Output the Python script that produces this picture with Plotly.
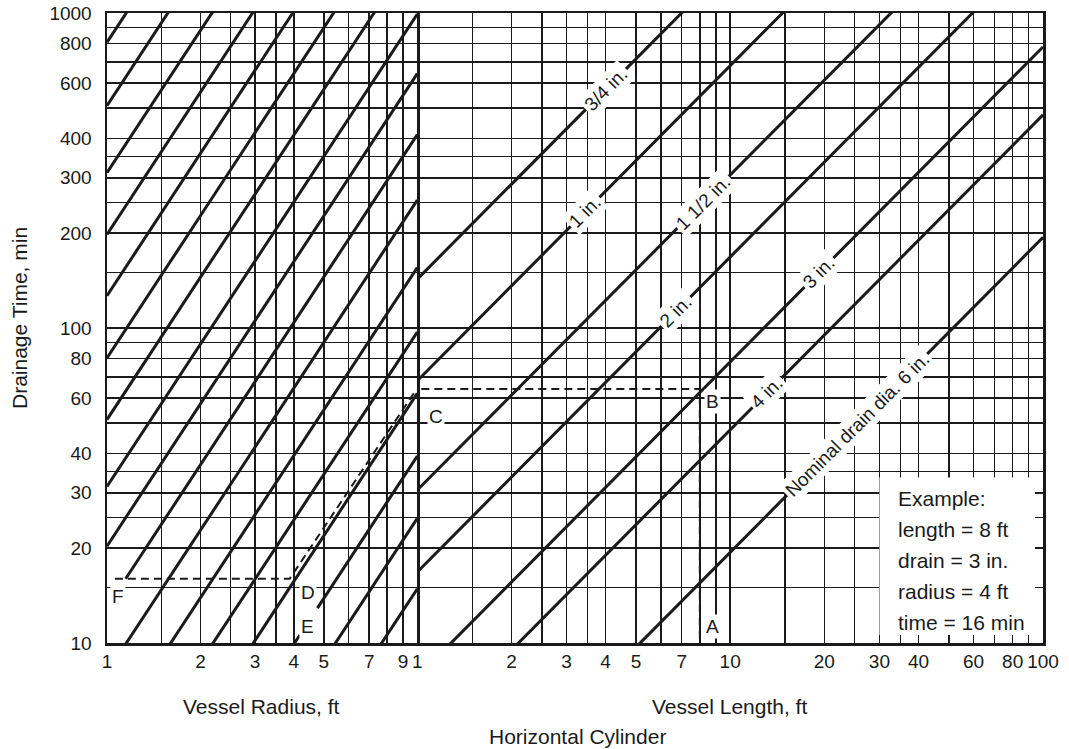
import math
import plotly.graph_objects as go

# ---------------- data ----------------
radius_grid = [1, 1.5, 2, 2.5, 3, 3.5, 4, 5, 6, 7, 8, 9, 10]
radius_tick_labels = [1, 2, 3, 4, 5, 7, 9]
length_grid = [1, 1.5, 2, 2.5, 3, 3.5, 4, 5, 6, 7, 8, 9, 10,
               15, 20, 25, 30, 35, 40, 50, 60, 70, 80, 90, 100]
length_tick_labels = [1, 2, 3, 4, 5, 7, 10, 20, 30, 40, 60, 80, 100]
time_grid = [10, 15, 20, 25, 30, 35, 40, 50, 60, 70, 80, 90, 100,
             150, 200, 250, 300, 350, 400, 500, 600, 700, 800, 900, 1000]
time_tick_labels = [10, 20, 30, 40, 60, 80, 100, 200, 300, 400, 600, 800, 1000]

# left panel guide lines: drainage time (min) at radius = 1 ft, slope 1.5 on log-log
guide_t_at_1ft = [807, 508, 311, 198, 126.6, 80.3, 51.2, 31.4, 20.3, 13,
                  8.06, 4.92, 3.07, 1.96, 1.24, 0.786, 0.47]
guide_exponent = 1.5
guide_start_time = {13: 16}             # line cut at the F reading
guide_gap_time = {1.24: (10.6, 12.9)}   # line broken for the D / E letters

# right panel drain lines: drainage time (min) at length = 1 ft, slope 1
drain_names = ["3/4 in.", "1 in.", "1 1/2 in.", "2 in.", "3 in.", "4 in.",
               "Nominal drain dia. 6 in."]
drain_t_at_1ft = [143, 68, 30.6, 16.8, 7.8, 4.75, 1.94]
drain_label_at_length = [4.0, 3.44, 8.2, 6.7, 19.2, 13.1, 25.5]

# worked example path
example_radius = [1.06, 3.88, 9.95]
example_radius_time = [16, 16, 64]
example_length = [1.03, 8, 8]
example_length_time = [64, 64, 10]
point_letters = ["A", "B", "C", "D", "E", "F"]
point_axis = ["r", "r", "r", "l", "l", "l"]
point_x = [8.8, 8.8, 1.147, 4.44, 4.44, 1.083]
point_t = [11.3, 58.4, 52.3, 14.5, 11.3, 14.0]

example_lines = ["Example:", "length = 8 ft", "drain = 3 in.", "radius = 4 ft", "time = 16 min"]
example_box_length = [30, 100]
example_box_time = [10, 33.5]

# ---------------- figure ----------------
FONT = "Liberation Sans, Arial, Helvetica, sans-serif"
INK = "#1a1a1a"
W, H = 1069, 749
ML, MR, MT, MB = 107, 26, 13, 106
PW, PH = W - ML - MR, H - MT - MB
split = (417.3 - ML) / PW

fig = go.Figure()

# white example box (covers the grid, under the axis tick stubs)
bx, by = example_box_length, example_box_time
fig.add_trace(go.Scatter(x=[bx[0], bx[1], bx[1], bx[0], bx[0]],
                         y=[by[0], by[0], by[1], by[1], by[0]],
                         xaxis="x2", yaxis="y2", mode="lines", fill="toself",
                         fillcolor="white", line=dict(width=0, color="white"),
                         hoverinfo="skip", showlegend=False))

# left panel guide lines
for c in guide_t_at_1ft:
    def r_of(t):
        return (t / c) ** (1.0 / guide_exponent)
    r0 = 1.0
    if c in guide_start_time:
        r0 = r_of(guide_start_time[c])
    if c in guide_gap_time:
        g0, g1 = guide_gap_time[c]
        xs = [r_of(10), r_of(g0), None, r_of(g1), 10]
    else:
        xs = [r0, 10]
    ys = [None if x is None else c * x ** guide_exponent for x in xs]
    fig.add_trace(go.Scatter(x=xs, y=ys, mode="lines", xaxis="x", yaxis="y",
                             line=dict(color=INK, width=3), hoverinfo="skip",
                             showlegend=False, connectgaps=False))

# right panel drain lines
for k in drain_t_at_1ft:
    fig.add_trace(go.Scatter(x=[1, 100], y=[k, k * 100], mode="lines",
                             xaxis="x2", yaxis="y2",
                             line=dict(color=INK, width=3), hoverinfo="skip",
                             showlegend=False))

# example dashed path
fig.add_trace(go.Scatter(x=example_radius, y=example_radius_time, mode="lines",
                         xaxis="x", yaxis="y", line=dict(color=INK, width=2, dash="8px,5px"),
                         hoverinfo="skip", showlegend=False))
fig.add_trace(go.Scatter(x=example_length, y=example_length_time, mode="lines",
                         xaxis="x2", yaxis="y2", line=dict(color=INK, width=2, dash="8px,5px"),
                         hoverinfo="skip", showlegend=False))

annotations = []
# drain line labels
for name, k, L in zip(drain_names, drain_t_at_1ft, drain_label_at_length):
    annotations.append(dict(x=math.log10(L), y=math.log10(k * L), xref="x2", yref="y2",
                            text=name, showarrow=False, textangle=-45,
                            xanchor="center", yanchor="middle",
                            font=dict(family=FONT, size=19, color=INK),
                            bgcolor="white", borderpad=2))
# point letters
for letter, ax, x, t in zip(point_letters, point_axis, point_x, point_t):
    annotations.append(dict(x=math.log10(x), y=math.log10(t),
                            xref="x2" if ax == "r" else "x", yref="y2" if ax == "r" else "y",
                            text=letter, showarrow=False, xanchor="center", yanchor="middle",
                            font=dict(family=FONT, size=19, color=INK),
                            bgcolor="white", borderpad=1))


def px(xp):
    return (xp - ML) / PW


def py(yp):
    return (H - MB - yp) / PH


# example text
for i, line in enumerate(example_lines):
    annotations.append(dict(x=px(896), y=py(498.3 + i * 31), xref="paper", yref="paper",
                            text=line, showarrow=False, xanchor="left", yanchor="middle",
                            font=dict(family=FONT, size=21, color=INK)))

# axis titles
title_font = dict(family=FONT, size=21, color=INK)
annotations += [
    dict(x=px(20), y=py(318), xref="paper", yref="paper", text="Drainage Time, min",
         textangle=-90, showarrow=False, xanchor="center", yanchor="middle", font=title_font),
    dict(x=px(261), y=py(706), xref="paper", yref="paper", text="Vessel Radius, ft",
         showarrow=False, xanchor="center", yanchor="middle", font=title_font),
    dict(x=px(729), y=py(706), xref="paper", yref="paper", text="Vessel Length, ft",
         showarrow=False, xanchor="center", yanchor="middle", font=title_font),
    dict(x=px(577), y=py(736), xref="paper", yref="paper", text="Horizontal Cylinder",
         showarrow=False, xanchor="center", yanchor="middle", font=title_font),
]


def ticktext(grid, labels):
    return [str(v) if v in labels else "" for v in grid]


common_axis = dict(type="log", showgrid=True, gridcolor=INK, gridwidth=1.6,
                   showline=True, linecolor=INK, linewidth=2.5, zeroline=False,
                   automargin=False, ticklabeloverflow="allow",
                   tickfont=dict(family=FONT, size=19, color=INK))

fig.update_layout(
    width=W, height=H, autosize=False,
    margin=dict(l=ML, r=MR, t=MT, b=MB, pad=0),
    paper_bgcolor="white", plot_bgcolor="white",
    showlegend=False,
    xaxis=dict(**common_axis, domain=[0, split], range=[0, 1], anchor="y",
               tickvals=radius_grid, ticktext=ticktext(radius_grid, radius_tick_labels),
               ticks="", mirror=True, ticklabelstandoff=0),
    yaxis=dict(**common_axis, range=[1, 3], anchor="x",
               tickvals=time_grid, ticktext=ticktext(time_grid, time_tick_labels),
               ticks="", mirror=True, ticklabelstandoff=9),
    xaxis2=dict(**common_axis, domain=[split, 1], range=[0, 2], anchor="y2",
                tickvals=length_grid, ticktext=ticktext(length_grid, length_tick_labels),
                ticks="inside", ticklen=8, tickwidth=1.6, tickcolor=INK,
                mirror="ticks", ticklabelstandoff=0),
    yaxis2=dict(**common_axis, range=[1, 3], anchor="x2", matches="y", side="right",
                tickvals=time_grid, showticklabels=False,
                ticks="inside", ticklen=8, tickwidth=1.6, tickcolor=INK),
    annotations=annotations,
)

# remove the browser's default 8px page margin so the figure sits at the window corner
fig.write_html("out.html",
               config={"displayModeBar": False, "staticPlot": True},
               post_script="document.body.style.margin='0px';document.body.style.overflow='hidden';")
